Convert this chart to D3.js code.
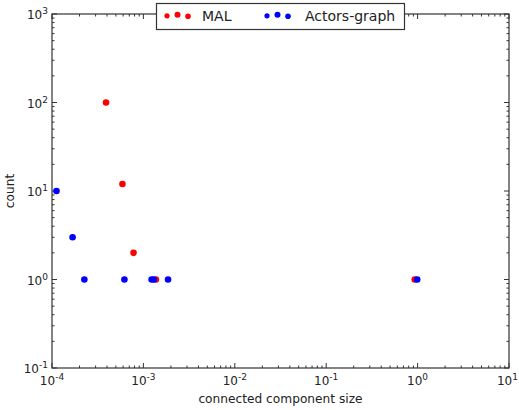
<!DOCTYPE html>
<html>
<head>
<meta charset="utf-8">
<script src="https://cdn.jsdelivr.net/npm/d3@7/dist/d3.min.js"></script>
<style>
  html, body { margin: 0; padding: 0; background: #fff; }
  svg { display: block; font-family: "DejaVu Sans", sans-serif; }
</style>
</head>
<body>
<svg id="chart" width="519" height="410"></svg>
<script>
// Connected component sizes (fraction of nodes) and how often each occurs
const malSize   = [3.9e-4, 5.9e-4, 7.8e-4, 1.37e-3, 0.93];
const malCount  = [100, 12, 2, 1, 1];
const actorSize  = [1.12e-4, 1.68e-4, 2.26e-4, 6.2e-4, 1.23e-3, 1.3e-3, 1.86e-3, 0.99];
const actorCount = [10, 3, 1, 1, 1, 1, 1, 1];

const seriesNames = ["MAL", "Actors-graph"];
const seriesColors = ["#ff0000", "#0000ff"];

const xDecades = [-4, -3, -2, -1, 0, 1];
const yDecades = [-1, 0, 1, 2, 3];

const margin = { left: 52, top: 14, right: 10, bottom: 42 };
const W = 519, H = 410;
const svg = d3.select("#chart");

const x = d3.scaleLog().domain([1e-4, 1e1]).range([margin.left, W - margin.right]);
const y = d3.scaleLog().domain([1e-1, 1e3]).range([H - margin.bottom, margin.top]);

const x0 = x.range()[0], x1 = x.range()[1];
const y0 = y.range()[0], y1 = y.range()[1];
const axisColor = "#333";

// major and minor tick values for a range of decades
function tickSets(decades) {
  const major = decades.map(d => Math.pow(10, d));
  const minor = [];
  for (let i = 0; i < decades.length - 1; i++) {
    for (let m = 2; m <= 9; m++) minor.push(m * Math.pow(10, decades[i]));
  }
  return { major, minor };
}
const xt = tickSets(xDecades);
const yt = tickSets(yDecades);

const ticks = svg.append("g").attr("stroke", axisColor).attr("stroke-width", 1);
const majLen = 5, minLen = 2.5;
// x ticks on bottom and top spines, pointing inward
[[xt.major, majLen], [xt.minor, minLen]].forEach(([vals, len]) => {
  vals.forEach(v => {
    const px = x(v);
    ticks.append("line").attr("x1", px).attr("x2", px).attr("y1", y0).attr("y2", y0 - len);
    ticks.append("line").attr("x1", px).attr("x2", px).attr("y1", y1).attr("y2", y1 + len);
  });
});
// y ticks on left and right spines, pointing inward
[[yt.major, majLen], [yt.minor, minLen]].forEach(([vals, len]) => {
  vals.forEach(v => {
    const py = y(v);
    ticks.append("line").attr("y1", py).attr("y2", py).attr("x1", x0).attr("x2", x0 + len);
    ticks.append("line").attr("y1", py).attr("y2", py).attr("x1", x1).attr("x2", x1 - len);
  });
});

// frame
svg.append("rect")
  .attr("x", x0).attr("y", y1).attr("width", x1 - x0).attr("height", y0 - y1)
  .attr("fill", "none").attr("stroke", axisColor).attr("stroke-width", 1.2);

// power-of-ten labels
function powLabel(g, exp) {
  g.append("tspan").text("10");
  g.append("tspan").attr("dy", -5).attr("font-size", 9).text(exp < 0 ? "-" + (-exp) : String(exp));
}
xDecades.forEach(d => {
  const t = svg.append("text")
    .attr("x", x(Math.pow(10, d))).attr("y", y0 + 17)
    .attr("text-anchor", "middle").attr("font-size", 12).attr("fill", "#222");
  powLabel(t, d);
  // keep the last label inside the page
  const bb = t.node().getBBox();
  if (bb.x + bb.width > W - 1) t.attr("x", +t.attr("x") - (bb.x + bb.width - (W - 1)));
});
yDecades.forEach(d => {
  const t = svg.append("text")
    .attr("x", x0 - 4).attr("y", y(Math.pow(10, d)) + 5)
    .attr("text-anchor", "end").attr("font-size", 12).attr("fill", "#222");
  powLabel(t, d);
});

// axis titles
svg.append("text")
  .attr("x", (x0 + x1) / 2).attr("y", 403)
  .attr("text-anchor", "middle").attr("font-size", 12.2).attr("fill", "#222")
  .text("connected component size");
svg.append("text")
  .attr("transform", `translate(14,${(y0 + y1) / 2}) rotate(-90)`)
  .attr("text-anchor", "middle").attr("font-size", 12.2).attr("fill", "#222")
  .text("count");

// scatter points
const plot = svg.append("g");
plot.selectAll("circle.mal").data(malSize.map((s, i) => [s, malCount[i]]))
  .join("circle").attr("class", "mal")
  .attr("cx", d => x(d[0])).attr("cy", d => y(d[1])).attr("r", 3.3)
  .attr("fill", seriesColors[0]);
plot.selectAll("circle.actor").data(actorSize.map((s, i) => [s, actorCount[i]]))
  .join("circle").attr("class", "actor")
  .attr("cx", d => x(d[0])).attr("cy", d => y(d[1])).attr("r", 3.3)
  .attr("fill", seriesColors[1]);

// legend
const lg = svg.append("g");
lg.append("rect").attr("x", 156.5).attr("y", 3.5).attr("width", 248).attr("height", 26)
  .attr("fill", "#fff").attr("stroke", axisColor).attr("stroke-width", 1.2);
const legendItems = [
  { name: seriesNames[0], color: seriesColors[0], mx: 167, tx: 202 },
  { name: seriesNames[1], color: seriesColors[1], mx: 267, tx: 305 }
];
const dotOffsets = [0, 10.5, 21];
const dotDy = [0.3, -0.8, 0.8];
const dotR = [2.6, 3.0, 2.8];
legendItems.forEach(it => {
  dotOffsets.forEach((o, i) => {
    lg.append("circle").attr("cx", it.mx + o).attr("cy", 15.5 + dotDy[i]).attr("r", dotR[i]).attr("fill", it.color);
  });
  lg.append("text").attr("x", it.tx).attr("y", 20.5).attr("font-size", 14).attr("fill", "#222").text(it.name);
});
</script>
</body>
</html>
